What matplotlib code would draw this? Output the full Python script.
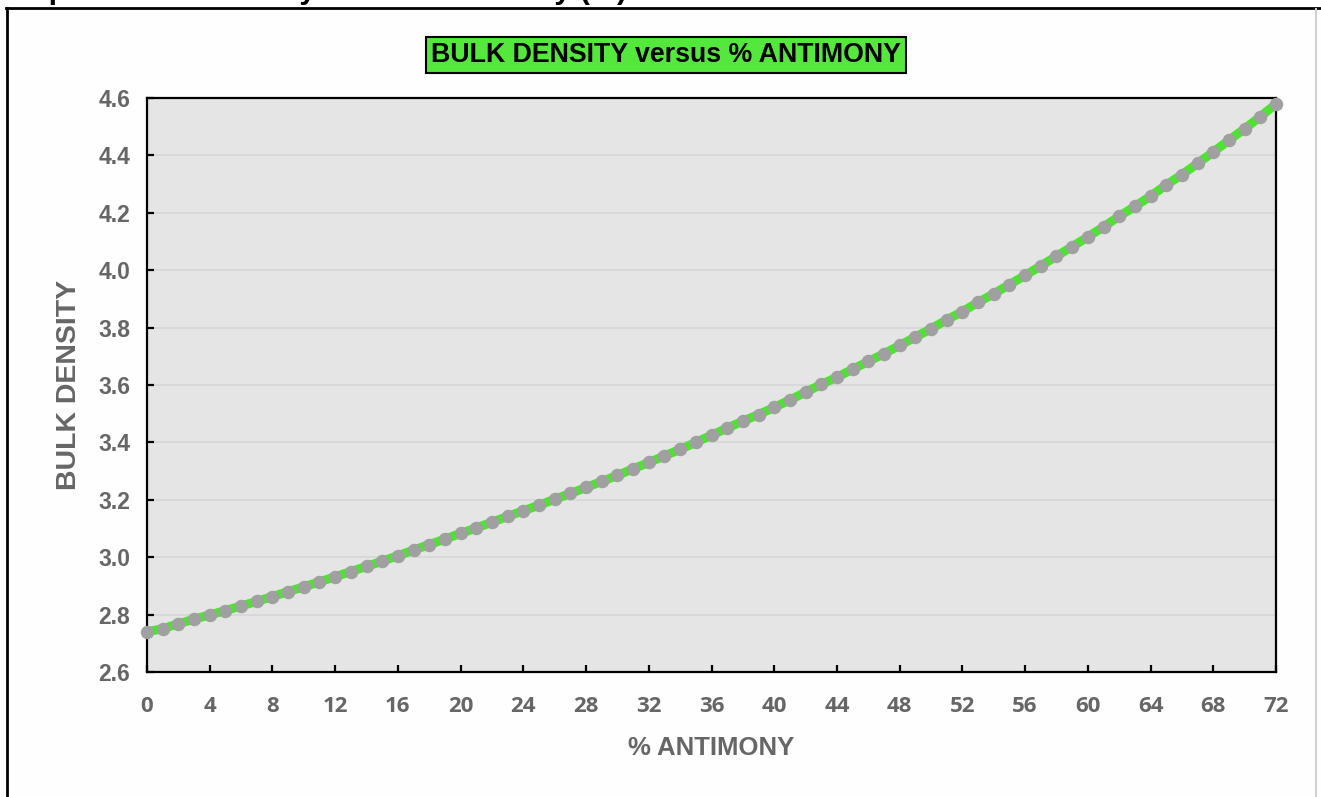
import matplotlib
matplotlib.use("Agg")
import matplotlib.pyplot as plt
from matplotlib.lines import Line2D

# ---- data ----
antimony_pct = list(range(0, 73))
bulk_density = [
    2.740, 2.751, 2.768, 2.784, 2.799, 2.814, 2.830, 2.846, 2.863, 2.880,
    2.897, 2.914, 2.932, 2.950, 2.968, 2.986, 3.005, 3.025, 3.044, 3.063,
    3.083, 3.102, 3.122, 3.142, 3.162, 3.181, 3.202, 3.222, 3.243, 3.264,
    3.285, 3.308, 3.330, 3.353, 3.376, 3.400, 3.425, 3.450, 3.474, 3.497,
    3.522, 3.548, 3.575, 3.602, 3.627, 3.655, 3.682, 3.709, 3.738, 3.767,
    3.796, 3.827, 3.856, 3.888, 3.918, 3.950, 3.982, 4.015, 4.049, 4.082,
    4.116, 4.151, 4.188, 4.222, 4.258, 4.297, 4.333, 4.372, 4.412, 4.453,
    4.493, 4.535, 4.579,
]
x_ticks = list(range(0, 73, 4))
y_ticks = [2.6, 2.8, 3.0, 3.2, 3.4, 3.6, 3.8, 4.0, 4.2, 4.4, 4.6]
chart_title = "BULK DENSITY versus % ANTIMONY"
top_caption = "Graph of Bulk Density versus Antimony (%)"
x_label = "% ANTIMONY"
y_label = "BULK DENSITY"

W, H = 1321, 797
fig = plt.figure(figsize=(W / 100, H / 100), dpi=100)
fig.patch.set_facecolor("#FEFEFE")

def fx(px):
    return px / W

def fy(py):
    return 1 - py / H

# outer frame of the chart area
fig.add_artist(Line2D([fx(7), fx(7)], [fy(8), fy(800)], color="black", lw=2.0, transform=fig.transFigure))
fig.add_artist(Line2D([fx(6), fx(1321)], [fy(8), fy(8)], color="black", lw=2.0, transform=fig.transFigure))
fig.add_artist(Line2D([fx(1316), fx(1316)], [fy(9), fy(800)], color="#CFCFCF", lw=1.5, transform=fig.transFigure))

# partially cropped caption at the very top (only its descenders show)
fig.text(fx(-4), fy(-2), top_caption, fontsize=22, fontweight="bold",
         family="Liberation Sans", color="black", ha="left", va="baseline")

ax = fig.add_axes([fx(147), fy(672), fx(1276) - fx(147), fy(98) - fy(672)])
ax.set_facecolor("#E5E5E5")

ax.plot(antimony_pct, bulk_density, color="#4CE52E", lw=6.5, zorder=3,
        solid_capstyle="butt", clip_on=False)
ax.plot(antimony_pct, bulk_density, linestyle="none", marker="o", markersize=8.7,
        markerfacecolor="#A0A0A0", markeredgecolor="#A0A0A0", zorder=4, clip_on=False)

ax.set_xlim(0, 72)
ax.set_ylim(2.6, 4.6)
ax.set_xticks(x_ticks)
ax.set_yticks(y_ticks)
ax.set_yticklabels([f"{v:.1f}" for v in y_ticks])
ax.yaxis.grid(True, color="#D6D6D6", lw=1.2, zorder=0)
ax.set_axisbelow(True)

for s in ax.spines.values():
    s.set_color("black")
    s.set_linewidth(1.6)

ax.tick_params(axis="both", direction="in", length=5, width=1.6, color="black")
ax.tick_params(axis="x", pad=17)
ax.tick_params(axis="y", pad=12)
for lab in ax.get_xticklabels():
    lab.set_family("Open Sans")
    lab.set_fontweight("bold")
    lab.set_fontsize(16)
    lab.set_color("#666666")
for lab in ax.get_yticklabels():
    lab.set_family("Liberation Sans")
    lab.set_fontweight("bold")
    lab.set_fontsize(16.5)
    lab.set_color("#666666")

ax.set_xlabel(x_label, family="Liberation Sans", fontweight="bold", fontsize=18.5,
              color="#666666", labelpad=14)
ax.set_ylabel(y_label, family="Liberation Sans", fontweight="bold", fontsize=20.5,
              color="#666666", labelpad=12)

fig.text(fx(666), fy(55), chart_title, fontsize=19.3, fontweight="bold",
         family="Liberation Sans", color="black", ha="center", va="center",
         bbox=dict(boxstyle="square,pad=0.2", facecolor="#55E83C",
                   edgecolor="black", linewidth=1.5))

fig.savefig("out.png", dpi=100, facecolor=fig.get_facecolor())
